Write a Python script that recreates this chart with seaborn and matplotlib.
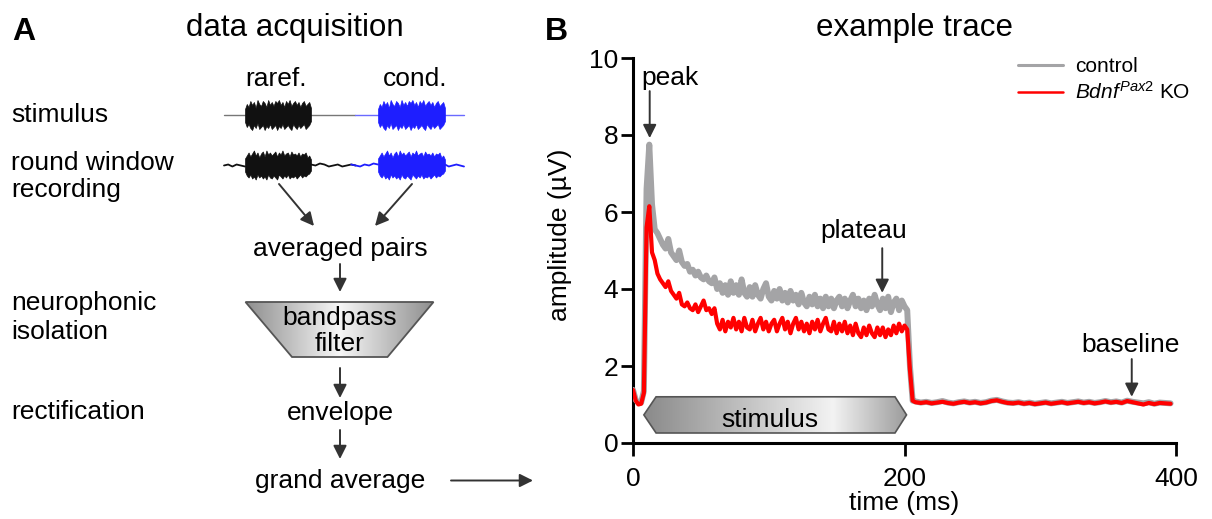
import numpy as np
import pandas as pd
import matplotlib
matplotlib.use("Agg")
import matplotlib.pyplot as plt
import seaborn as sns
from matplotlib.patches import Polygon
from matplotlib.lines import Line2D
from matplotlib.colors import LinearSegmentedColormap

# ---- panel B: averaged envelope traces ----
t_early = np.arange(0, 208, 2)      # ms, 2 ms steps through the stimulus
t_late = np.arange(208, 400, 4)     # ms, 4 ms steps for the baseline

ctrl_early = [
    1.38, 1.12, 1.04, 1.05, 1.35, 6.6, 7.75, 6.2, 5.55, 5.45,
    5.3, 5.15, 5.05, 5.3, 4.95, 4.85, 4.75, 5.0, 4.7, 4.6,
    4.65, 4.45, 4.5, 4.35, 4.45, 4.3, 4.25, 4.35, 4.2, 4.15,
    4.3, 4.0, 4.15, 3.9, 4.1, 3.85, 4.2, 3.9, 4.1, 3.85,
    4.25, 3.9, 3.8, 4.05, 3.8, 4.1, 3.85, 3.75, 4.0, 4.15,
    3.8, 3.7, 3.95, 3.75, 4.0, 3.7, 3.9, 3.65, 3.95, 3.7,
    3.85, 3.6, 3.9, 3.65, 3.55, 3.8, 3.6, 3.85, 3.55, 3.75,
    3.5, 3.8, 3.55, 3.75, 3.5, 3.7, 3.8, 3.55, 3.75, 3.5,
    3.7, 3.85, 3.55, 3.75, 3.5, 3.7, 3.45, 3.75, 3.55, 3.85,
    3.6, 3.45, 3.75, 3.5, 3.8, 3.4, 3.65, 3.75, 3.45, 3.7,
    3.55, 3.45, 2.0, 1.1,
]
ko_early = [
    1.38, 1.10, 1.00, 1.02, 1.30, 5.6, 6.15, 4.95, 4.75, 4.4,
    4.25, 4.15, 4.05, 4.2, 3.95, 3.85, 3.75, 3.9, 3.6, 3.55,
    3.65, 3.5, 3.45, 3.6, 3.4, 3.55, 3.7, 3.45, 3.5, 3.35,
    3.5, 3.1, 2.95, 3.2, 2.9, 3.15, 3.0, 3.25, 2.95, 3.15,
    2.9, 3.25, 3.0, 2.95, 3.2, 2.9, 3.1, 3.25, 2.95, 3.15,
    2.9, 3.1, 3.2, 2.9, 3.1, 3.25, 2.95, 3.15, 2.85, 3.1,
    3.25, 2.95, 3.15, 2.9, 3.1, 2.85, 3.15, 2.95, 3.2, 2.9,
    3.1, 3.25, 2.95, 2.9, 3.15, 2.85, 3.1, 2.9, 3.15, 2.85,
    3.05, 2.8, 3.1, 2.85, 2.75, 3.0, 2.8, 3.05, 2.85, 2.75,
    3.0, 2.8, 3.0, 2.75, 2.95, 2.8, 3.05, 2.85, 3.1, 2.9,
    3.05, 2.95, 1.9, 1.1,
]
ctrl_late = [
    1.08, 1.05, 1.07, 1.04, 1.06, 1.09, 1.05, 1.03, 1.06, 1.08,
    1.05, 1.07, 1.04, 1.06, 1.10, 1.12, 1.08, 1.05, 1.04, 1.06,
    1.03, 1.05, 1.02, 1.04, 1.06, 1.03, 1.05, 1.07, 1.04, 1.06,
    1.08, 1.05, 1.07, 1.04, 1.06, 1.09, 1.06, 1.08, 1.05, 1.10,
    1.07, 1.05, 1.03, 1.06, 1.02, 1.05, 1.04, 1.03,
]
ko_late = [
    1.06, 1.04, 1.06, 1.03, 1.05, 1.07, 1.04, 1.02, 1.05, 1.07,
    1.04, 1.06, 1.03, 1.05, 1.09, 1.11, 1.07, 1.04, 1.03, 1.05,
    1.02, 1.04, 1.01, 1.03, 1.05, 1.02, 1.04, 1.06, 1.03, 1.05,
    1.07, 1.04, 1.06, 1.03, 1.05, 1.08, 1.05, 1.07, 1.04, 1.09,
    1.06, 1.03, 1.00, 1.04, 1.01, 1.04, 1.03, 1.02,
]

groups = ["control", "Bdnf KO"]
x_ticks = [0, 200, 400]
y_ticks = [0, 2, 4, 6, 8, 10]

# ---- panel A: schematic noise bursts (pixel offsets from the row centre) ----
stim_up = [6, 11, 8, 14, 10, 13, 7, 15, 11, 9, 14, 12, 8, 15, 10, 13, 9, 14, 12, 15,
           10, 13, 8, 14, 11, 15, 9, 12, 14, 10, 13, 8, 12, 14, 9, 11, 13, 7]
stim_dn = [7, 12, 9, 13, 15, 10, 13, 8, 14, 12, 10, 15, 11, 13, 9, 14, 12, 10, 15, 11,
           13, 9, 14, 12, 10, 13, 15, 9, 12, 14, 10, 13, 11, 9, 14, 12, 10, 6]
rec_up = [7, 10, 13, 9, 12, 15, 10, 13, 8, 12, 14, 9, 15, 11, 13, 10, 12, 14, 9, 13,
          11, 15, 10, 12, 13, 9, 14, 11, 12, 10, 13, 9, 12, 11, 13, 8, 10, 6]
rec_dn = [6, 10, 12, 9, 13, 11, 14, 9, 12, 10, 13, 11, 14, 9, 12, 13, 10, 12, 14, 9,
          11, 13, 10, 12, 9, 13, 11, 12, 10, 13, 11, 9, 12, 10, 11, 9, 8, 5]
rec_noise_pre = [0, 1, -1, 1, 0, -1]
rec_noise_mid = [1, 0, 2, 1, -1, 0, 1, -1, 0, 1, 0, -1, 1, 0, 2, 1]
rec_noise_post = [1, -1, 0, 1, 0, -1]

sns.set_theme(style="ticks")
plt.rcParams["font.family"] = ["Liberation Sans", "DejaVu Sans"]
plt.rcParams["mathtext.fontset"] = "custom"
plt.rcParams["mathtext.rm"] = "Liberation Sans"
plt.rcParams["mathtext.it"] = "Liberation Sans:italic"
for key in ["text.color", "axes.labelcolor", "xtick.color", "ytick.color"]:
    plt.rcParams[key] = "black"

W, H = 1212, 519
fig = plt.figure(figsize=(W / 100, H / 100), dpi=100)
fig.patch.set_facecolor("white")

# overlay in pixel coordinates for panel A and the panel letters
ax0 = fig.add_axes([0, 0, 1, 1])
ax0.set_xlim(0, W)
ax0.set_ylim(H, 0)
ax0.axis("off")

txt = dict(fontsize=19, color="black", va="baseline")
arrow_kw = dict(arrowstyle="-|>", color="#333333", lw=1.4, mutation_scale=20,
                shrinkA=0, shrinkB=0)

ax0.text(12, 40, "A", fontsize=23, fontweight="bold", va="baseline")
ax0.text(545, 40, "B", fontsize=23, fontweight="bold", va="baseline")
ax0.text(295, 36, "data acquisition", fontsize=22.5, ha="center", va="baseline")

ax0.text(276, 86, "raref.", ha="center", **txt)
ax0.text(415, 86, "cond.", ha="center", **txt)
ax0.text(11, 122, "stimulus", **txt)
ax0.text(11, 170, "round window", **txt)
ax0.text(11, 197, "recording", **txt)
ax0.text(11, 310, "neurophonic", **txt)
ax0.text(11, 339, "isolation", **txt)
ax0.text(11, 419, "rectification", **txt)

black, blue = "#111111", "#1e1eff"
stim_y, rec_y = 115, 165.5

# stimulus row
ax0.plot([224, 355], [stim_y, stim_y], color="#777777", lw=1)
ax0.plot([355, 464], [stim_y, stim_y], color="#6a6aff", lw=1)
for x0, x1, col in [(245, 311, black), (378, 445, blue)]:
    xs = np.linspace(x0, x1, len(stim_up))
    ax0.fill_between(xs, stim_y - np.array(stim_up), stim_y + np.array(stim_dn),
                     color=col, lw=0.5, edgecolor=col, zorder=3)

# round window recording row
ax0.plot(np.linspace(224, 245, len(rec_noise_pre)), rec_y - np.array(rec_noise_pre), color=black, lw=1.3)
mid_x = np.linspace(311, 378, len(rec_noise_mid))
mid_y = rec_y - np.array(rec_noise_mid)
ax0.plot(mid_x[mid_x <= 356], mid_y[mid_x <= 356], color=black, lw=1.3)
ax0.plot(mid_x[mid_x >= 350], mid_y[mid_x >= 350], color=blue, lw=1.3)
ax0.plot(np.linspace(445, 464, len(rec_noise_post)), rec_y - np.array(rec_noise_post), color=blue, lw=1.3)
for x0, x1, col in [(245, 311, black), (378, 445, blue)]:
    xs = np.linspace(x0, x1, len(rec_up))
    ax0.fill_between(xs, rec_y - np.array(rec_up), rec_y + np.array(rec_dn),
                     color=col, lw=0.5, edgecolor=col, zorder=3)

ax0.annotate("", xy=(314, 226), xytext=(279, 184), arrowprops=arrow_kw)
ax0.annotate("", xy=(375, 226), xytext=(412, 184), arrowprops=arrow_kw)
ax0.text(340, 256, "averaged pairs", ha="center", **txt)
ax0.annotate("", xy=(340, 292), xytext=(340, 264), arrowprops=arrow_kw)

# bandpass filter trapezoid with grey gradient
trap = Polygon([(245.5, 302), (433.5, 302), (387.5, 357), (292, 357)], closed=True,
               facecolor="none", edgecolor="#555555", lw=1.3, zorder=3)
ax0.add_patch(trap)
grey_cm = LinearSegmentedColormap.from_list("g", ["#f6f6f6", "#8e8e8e"])
grad = np.abs(np.linspace(-1, 1, 256))[None, :]
im = ax0.imshow(grad, extent=(245, 434, 357, 302), cmap=grey_cm, aspect="auto", zorder=2)
im.set_clip_path(trap)
ax0.set_xlim(0, W)
ax0.set_ylim(H, 0)
ax0.text(340, 325, "bandpass", ha="center", zorder=4, **txt)
ax0.text(340, 351, "filter", ha="center", zorder=4, **txt)

ax0.annotate("", xy=(340, 398), xytext=(340, 368), arrowprops=arrow_kw)
ax0.text(340, 420, "envelope", ha="center", **txt)
ax0.annotate("", xy=(340, 459), xytext=(340, 430), arrowprops=arrow_kw)
ax0.text(340, 488, "grand average", ha="center", **txt)
ax0.annotate("", xy=(533, 480.5), xytext=(451, 480.5), arrowprops=arrow_kw)

# ---- panel B ----
axB = fig.add_axes([633 / W, 1 - 443 / H, 543 / W, 385 / H])
axB.set_facecolor("none")

time = np.concatenate([t_early, t_late])
df = pd.DataFrame({
    "time": np.tile(time, 2),
    "amplitude": ctrl_early + ctrl_late + ko_early + ko_late,
    "group": [groups[0]] * len(time) + [groups[1]] * len(time),
})
sns.lineplot(data=df[df["group"] == groups[0]], x="time", y="amplitude",
             color="#a4a4a6", lw=4.3, estimator=None, ax=axB, zorder=3)
sns.lineplot(data=df[df["group"] == groups[1]], x="time", y="amplitude",
             color="#ff0000", lw=3.0, estimator=None, ax=axB, zorder=4)

# stimulus bar (hexagon with gradient)
hexagon = Polygon([(8, 0.73), (17, 1.2), (193, 1.2), (201.5, 0.73), (193, 0.26), (17, 0.26)],
                  closed=True, facecolor="none", edgecolor="#555555", lw=1.2, zorder=3)
axB.add_patch(hexagon)
bar_cm = LinearSegmentedColormap.from_list(
    "bar", [(0, "#8a8a8a"), (0.72, "#f3f3f3"), (1, "#9c9c9c")])
im2 = axB.imshow(np.linspace(0, 1, 256)[None, :], extent=(8, 201.5, 0.26, 1.2),
                 cmap=bar_cm, aspect="auto", zorder=2)
im2.set_clip_path(hexagon)
axB.text(101, 0.42, "stimulus", ha="center", va="baseline", fontsize=19, zorder=4)

axB.set_xlim(0, 400)
axB.set_ylim(0, 10)
axB.set_xticks(x_ticks)
axB.set_yticks(y_ticks)
axB.set_xlabel("time (ms)", fontsize=19)
axB.set_ylabel("amplitude (µV)", fontsize=19)
axB.xaxis.set_label_coords(0.5, -0.125)
axB.yaxis.set_label_coords(-0.112, 0.54)
axB.tick_params(axis="both", length=9, width=2, labelsize=19, color="black")
axB.tick_params(axis="y", pad=1.5)
axB.tick_params(axis="x", pad=8)
sns.despine(ax=axB)
for side in ["left", "bottom"]:
    axB.spines[side].set_linewidth(2.2)
    axB.spines[side].set_color("black")

# annotations
b_arrow = dict(arrowstyle="-|>", color="#333333", lw=1.4, mutation_scale=20, shrinkA=0, shrinkB=0)
axB.text(27.5, 9.3, "peak", ha="center", va="baseline", fontsize=19)
axB.annotate("", xy=(12.3, 7.92), xytext=(12.3, 9.14), arrowprops=b_arrow)
axB.text(170, 5.32, "plateau", ha="center", va="baseline", fontsize=19)
axB.annotate("", xy=(183.6, 3.9), xytext=(183.6, 5.06), arrowprops=b_arrow)
axB.text(366.7, 2.36, "baseline", ha="center", va="baseline", fontsize=19)
axB.annotate("", xy=(367.4, 1.2), xytext=(367.4, 2.18), arrowprops=b_arrow)

handles = [Line2D([], [], color="#a4a4a6", lw=2.2), Line2D([], [], color="#ff0000", lw=1.8)]
labels = ["control", r"$\mathit{Bdnf}^{\mathit{Pax2}}$ KO"]
axB.legend(handles, labels, loc="upper left", bbox_to_anchor=(1018 / W, 1 - 57 / H),
           bbox_transform=fig.transFigure, frameon=False, fontsize=15,
           handlelength=2.15, handletextpad=0.6, labelspacing=0.25,
           borderpad=0, borderaxespad=0)

ax0.text(915, 36, "example trace", fontsize=22.5, ha="center", va="baseline")

fig.savefig("out.png", dpi=100)
